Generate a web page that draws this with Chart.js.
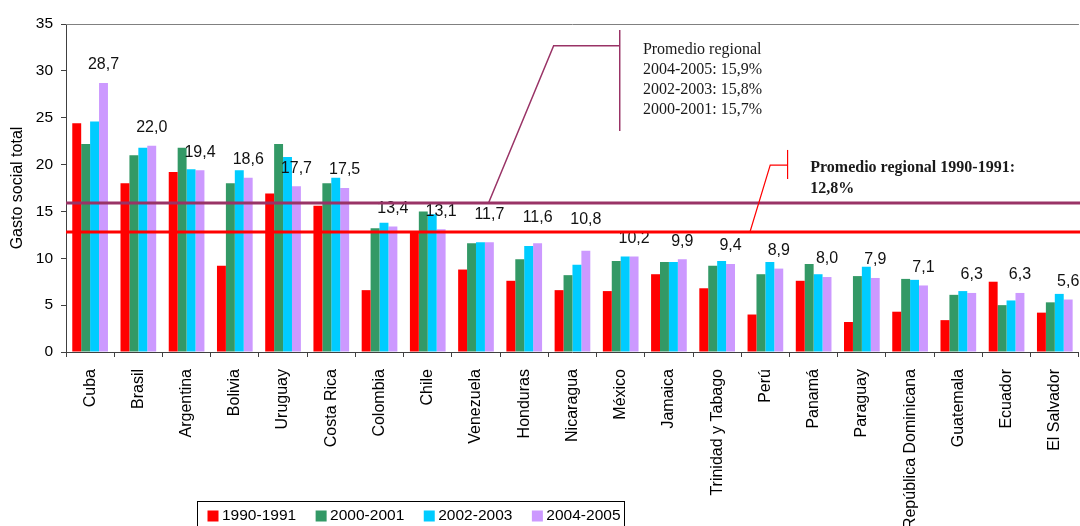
<!DOCTYPE html>
<html>
<head>
<meta charset="utf-8">
<script src="https://cdn.jsdelivr.net/npm/chart.js@4.4.1/dist/chart.umd.min.js"></script>
<style>
  html, body { margin: 0; padding: 0; background: #fff; overflow: hidden; }
  #wrap { position: relative; width: 1086px; height: 526px; }
</style>
</head>
<body>
<div id="wrap"><canvas id="myChart"></canvas></div>
<script>
const paises = ['Cuba', 'Brasil', 'Argentina', 'Bolivia', 'Uruguay', 'Costa Rica', 'Colombia',
  'Chile', 'Venezuela', 'Honduras', 'Nicaragua', 'México', 'Jamaica', 'Trinidad y Tabago',
  'Perú', 'Panamá', 'Paraguay', 'República Dominicana', 'Guatemala', 'Ecuador', 'El Salvador'];
const periodos = ['1990-1991', '2000-2001', '2002-2003', '2004-2005'];

const gasto1990 = [24.4, 18.0, 19.2, 9.2, 16.9, 15.6, 6.6, 12.7, 8.8, 7.6, 6.6, 6.5, 8.3, 6.8, 4.0, 7.6, 3.2, 4.3, 3.4, 7.5, 4.2];
const gasto2000 = [22.2, 21.0, 21.8, 18.0, 22.2, 18.0, 13.2, 15.0, 11.6, 9.9, 8.2, 9.7, 9.6, 9.2, 8.3, 9.4, 8.1, 7.8, 6.1, 5.0, 5.3];
const gasto2002 = [24.6, 21.8, 19.5, 19.4, 20.8, 18.6, 13.8, 14.7, 11.7, 11.3, 9.3, 10.2, 9.6, 9.7, 9.6, 8.3, 9.1, 7.7, 6.5, 5.5, 6.2];
const gasto2004 = [28.7, 22.0, 19.4, 18.6, 17.7, 17.5, 13.4, 13.1, 11.7, 11.6, 10.8, 10.2, 9.9, 9.4, 8.9, 8.0, 7.9, 7.1, 6.3, 6.3, 5.6];

// promedios regionales
const promedio1990 = 12.8;
const promedio2004 = 15.9;
const textoPromedios = ['Promedio regional', '2004-2005: 15,9%', '2002-2003: 15,8%', '2000-2001: 15,7%'];
const textoPromedio1990 = ['Promedio regional 1990-1991:', '12,8%'];

const colores = ['#ff0000', '#339966', '#00ccff', '#cc99ff'];
const series = [gasto1990, gasto2000, gasto2002, gasto2004];

function coma(v) {
  return v.toFixed(1).replace('.', ',');
}

// etiquetas, lineas de promedio, llamadas y leyenda
const extras = {
  id: 'extras',
  afterDatasetsDraw(chart, args, opts) {
    const ctx = chart.ctx;
    const area = chart.chartArea;
    const x = chart.scales.x;
    const y = chart.scales.y;
    const paso = x.getPixelForValue(1) - x.getPixelForValue(0);
    const px = i => x.getPixelForValue(0) + i * paso;

    ctx.save();

    // borde superior del area
    ctx.strokeStyle = '#808080';
    ctx.lineWidth = 1;
    ctx.beginPath();
    ctx.moveTo(area.left, area.top + 0.5);
    ctx.lineTo(area.right, area.top + 0.5);
    ctx.stroke();

    // valores sobre las barras 2004-2005
    const meta = chart.getDatasetMeta(3);
    ctx.font = '16px "Liberation Sans", Arial, sans-serif';
    ctx.fillStyle = '#111';
    ctx.textAlign = 'center';
    ctx.textBaseline = 'middle';
    meta.data.forEach((bar, i) => {
      const lift = opts.lift[i] || 18;
      ctx.fillText(coma(gasto2004[i]), bar.x, bar.y - lift);
    });

    // lineas de promedio
    ctx.lineWidth = 3;
    [[promedio2004, '#993366'], [promedio1990, '#ff0000']].forEach(([v, c]) => {
      const yy = y.getPixelForValue(v);
      ctx.strokeStyle = c;
      ctx.beginPath();
      ctx.moveTo(area.left, yy);
      ctx.lineTo(area.right + 10, yy);
      ctx.stroke();
    });

    // llamadas
    opts.llamadas.forEach(l => {
      ctx.strokeStyle = l.color;
      ctx.lineWidth = l.ancho;
      ctx.beginPath();
      ctx.moveTo(px(l.punta[0]), y.getPixelForValue(l.punta[1]));
      ctx.lineTo(px(l.codo[0]), y.getPixelForValue(l.codo[1]));
      ctx.lineTo(px(l.barra[0]), y.getPixelForValue(l.codo[1]));
      ctx.stroke();
      ctx.beginPath();
      ctx.moveTo(px(l.barra[0]), y.getPixelForValue(l.barra[1]));
      ctx.lineTo(px(l.barra[0]), y.getPixelForValue(l.barra[2]));
      ctx.stroke();

      ctx.font = l.fuente;
      ctx.fillStyle = '#1a1a1a';
      ctx.textAlign = 'left';
      ctx.textBaseline = 'middle';
      const y0 = y.getPixelForValue(l.texto[1]);
      l.lineas.forEach((t, k) => ctx.fillText(t, px(l.texto[0]), y0 + k * l.interlinea));
    });

    // leyenda
    const lg = opts.leyenda;
    ctx.strokeStyle = '#000';
    ctx.lineWidth = 1;
    ctx.strokeRect(lg.left + 0.5, lg.top + 0.5, lg.width, 60);
    ctx.font = '15.5px "Liberation Sans", Arial, sans-serif';
    ctx.textAlign = 'left';
    ctx.textBaseline = 'middle';
    let cx = lg.left + 10.5;
    chart.data.datasets.forEach(ds => {
      ctx.fillStyle = ds.backgroundColor;
      ctx.fillRect(cx, lg.top + 9.5, 11, 11);
      ctx.fillStyle = '#000';
      ctx.fillText(ds.label, cx + 14.5, lg.top + 15);
      cx += 14.5 + ctx.measureText(ds.label).width + 19.5;
    });

    ctx.restore();
  }
};

new Chart(document.getElementById('myChart'), {
  type: 'bar',
  data: {
    labels: paises,
    datasets: periodos.map((p, i) => ({
      label: p,
      data: series[i],
      backgroundColor: colores[i],
      borderWidth: 0,
      barPercentage: 1,
      categoryPercentage: 0.74
    }))
  },
  options: {
    responsive: true,
    maintainAspectRatio: false,
    animation: false,
    devicePixelRatio: 1,
    layout: { padding: { top: 24, left: 0, right: 0, bottom: 0 } },
    plugins: {
      legend: { display: false },
      tooltip: { enabled: false },
      extras: {
        lift: { 8: 28, 9: 26, 10: 31 },
        llamadas: [
          {
            color: '#993366', ancho: 1.5,
            punta: [8.26, promedio2004], codo: [9.61, 32.68], barra: [10.98, 34.36, 23.58],
            texto: [11.46, 32.3], interlinea: 20, lineas: textoPromedios,
            fuente: '16px "Liberation Serif", "Times New Roman", serif'
          },
          {
            color: '#ff0000', ancho: 1.2,
            punta: [13.68, promedio1990], codo: [14.10, 19.95], barra: [14.46, 21.56, 18.46],
            texto: [14.93, 19.67], interlinea: 21, lineas: textoPromedio1990,
            fuente: 'bold 16px "Liberation Serif", "Times New Roman", serif'
          }
        ],
        leyenda: { left: 197, top: 501, width: 427 }
      }
    },
    scales: {
      x: {
        offset: true,
        afterFit: s => { s.height = 174; },
        grid: { display: true, drawOnChartArea: false, drawTicks: true, tickLength: 5, offset: true, color: '#404040' },
        border: { display: true, color: '#404040' },
        ticks: {
          autoSkip: false,
          minRotation: 90,
          maxRotation: 90,
          padding: 12,
          color: '#000',
          font: { family: '"Liberation Sans", Arial, sans-serif', size: 16 }
        }
      },
      y: {
        min: 0,
        max: 35,
        afterFit: s => { s.width = 66; },
        grid: { drawOnChartArea: false, drawTicks: true, tickLength: 5, color: '#404040' },
        border: { display: true, color: '#404040' },
        ticks: {
          stepSize: 5,
          padding: 8,
          color: '#000',
          font: { family: '"Liberation Sans", Arial, sans-serif', size: 15.5 }
        },
        title: {
          display: true,
          text: 'Gasto social total',
          color: '#000',
          padding: { top: 8, bottom: 0 },
          font: { family: '"Liberation Sans", Arial, sans-serif', size: 16, weight: 'normal' }
        }
      }
    }
  },
  plugins: [extras]
});
</script>
</body>
</html>
